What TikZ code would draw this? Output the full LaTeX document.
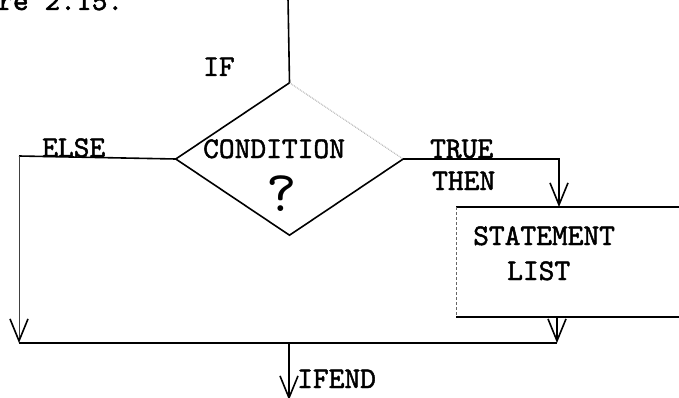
\documentclass[tikz,border=0pt]{standalone}
\usepackage{fontspec}
\newfontfamily\typew{lmmono10-regular.otf}[FakeBold=1.6]
\newfontfamily\handq{lmmono10-regular.otf}
\usetikzlibrary{arrows.meta,shapes.geometric,calc}
\begin{document}
\begin{tikzpicture}[x=1pt,y=-1pt,
  line/.style={line width=1.6pt},
  faintline/.style={line width=0.8pt, black!45, densely dotted},
  thinline/.style={line width=0.9pt, black!75},
  vee/.style={-{Straight Barb[length=22pt,width=18pt,line width=1.6pt,color=black]}},
  lbl/.style={font=\fontsize{30}{36}\selectfont\typew, inner sep=0pt, anchor=base west},
]
\useasboundingbox (0,0) rectangle (679,398);
\clip (0,0) rectangle (679,398);

% caption fragment
\node[lbl] (cap) at (-3,10) {re 2.15.};

% decision
\node[diamond, minimum width=227pt, minimum height=152pt, inner sep=0pt] (cond) at (289.5,159) {};
\coordinate (entry) at (288,-2);
\draw[line] (entry) -- (cond.north);
\draw[line] (cond.west) -- (cond.north);
\draw[faintline] (cond.north) -- (cond.east);
\draw[line] (cond.east) -- (cond.south) -- (cond.west);

\node[lbl] (iflbl) at (203,76) {IF};
\node[lbl] (condlbl) at (203,158) {CONDITION};
\node[font=\fontsize{58}{60}\selectfont\handq, inner sep=0pt] (qm) at (282,194) {?};

% statement box (right side runs off the page)
\node[rectangle, minimum width=260pt, minimum height=110pt, inner sep=0pt, anchor=north west] (box) at (456,207) {};
\draw[line] (box.north west) -- (box.north east);
\draw[line width=0.6pt, black!60, densely dashed] (box.north west) -- (box.south west);
\draw[line width=2pt] (box.south west) -- (box.south east);
\node[lbl] (stmt) at (473,245) {STATEMENT};
\node[lbl] (list) at (507,280) {LIST};

% connectors
\coordinate (elsec) at (19,156);
\coordinate (tin) at (559,207);
\coordinate (tout) at (557,317);
\coordinate (joinL) at (19,343);
\coordinate (joinR) at (557,343);
\coordinate (mid) at (289,343);
\coordinate (exit) at (289,400);

\draw[line] (cond.west) -- (elsec);
\draw[thinline, vee] (elsec) -- (joinL);
\draw[line, vee] (cond.east) -| (tin);
\draw[line, vee] (tout) -- (joinR);
\draw[line] (joinL) -- (joinR);
\draw[line, vee] (mid) -- (exit);

\node[lbl] (elselbl) at (42,157) {ELSE};
\node[lbl] (truelbl) at (430,158) {TRUE};
\node[lbl] (thenlbl) at (432,190) {THEN};
\node[lbl] (ifendlbl) at (297,388) {IFEND};
\end{tikzpicture}
\end{document}
